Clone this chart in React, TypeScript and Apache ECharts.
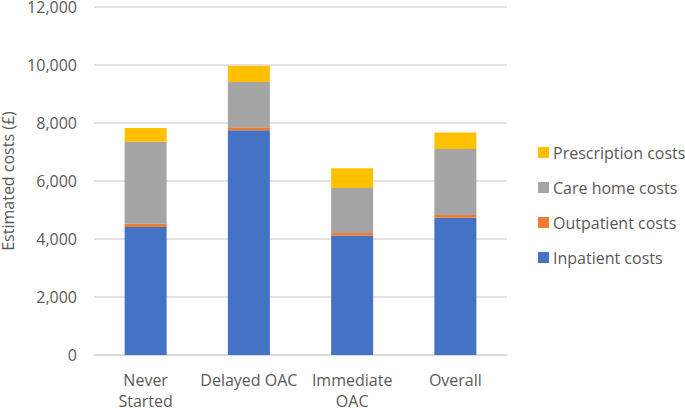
import React, { useEffect, useRef } from "react";
import * as echarts from "echarts";

const categories = ["Never\nStarted", "Delayed OAC", "Immediate\nOAC", "Overall"];
const inpatient = [4410, 7750, 4110, 4730];
const outpatient = [120, 100, 95, 95];
const careHome = [2825, 1565, 1555, 2275];
const prescription = [475, 555, 680, 575];
const yTicks = { min: 0, max: 12000, interval: 2000 };

const FONT = "'Open Sans', 'Noto Sans', sans-serif";
const GREY = "#595959";

export default function App() {
  const ref = useRef<HTMLDivElement>(null);
  useEffect(() => {
    if (!ref.current) return;
    const chart = echarts.init(ref.current, undefined, { renderer: "svg" });
    const mk = (name: string, data: number[], color: string) => ({
      name,
      type: "bar",
      stack: "total",
      data,
      barWidth: 42,
      itemStyle: { color },
      emphasis: { disabled: true },
    });
    chart.setOption({
      animation: false,
      textStyle: { fontFamily: FONT },
      grid: { left: 94, right: 178, top: 7, bottom: 53, containLabel: false, outerBoundsMode: "none" },
      legend: {
        orient: "vertical",
        left: 538,
        top: 144,
        padding: 0,
        itemWidth: 11,
        itemHeight: 11,
        itemGap: 18,
        icon: "rect",
        data: ["Prescription costs", "Care home costs", "Outpatient costs", "Inpatient costs"],
        textStyle: { color: GREY, fontSize: 16, lineHeight: 17, fontFamily: FONT, padding: [0, 0, 0, -1] },
        selectedMode: false,
      },
      xAxis: {
        type: "category",
        data: categories,
        axisLine: { lineStyle: { color: "#d9d9d9", width: 1.5 } },
        axisTick: { show: false },
        axisLabel: { color: GREY, fontSize: 16, lineHeight: 21, margin: 14, fontFamily: FONT, interval: 0 },
      },
      yAxis: {
        type: "value",
        min: yTicks.min,
        max: yTicks.max,
        interval: yTicks.interval,
        name: "Estimated costs (£)",
        nameLocation: "middle",
        nameGap: 73,
        nameTextStyle: { color: GREY, fontSize: 16, lineHeight: 16, fontFamily: FONT },
        axisLine: { show: false },
        axisTick: { show: false },
        splitLine: { lineStyle: { color: "#d9d9d9", width: 1.5 } },
        axisLabel: {
          color: GREY,
          fontSize: 16,
          lineHeight: 14,
          margin: 17,
          fontFamily: FONT,
          formatter: (v: number) => v.toLocaleString("en-GB"),
        },
      },
      series: [
        mk("Inpatient costs", inpatient, "#4472C4"),
        mk("Outpatient costs", outpatient, "#ED7D31"),
        mk("Care home costs", careHome, "#A5A5A5"),
        mk("Prescription costs", prescription, "#FFC000"),
      ],
    });
    return () => chart.dispose();
  }, []);
  return <div ref={ref} style={{ width: 685, height: 408, position: "absolute", left: 0, top: 0 }} />;
}
